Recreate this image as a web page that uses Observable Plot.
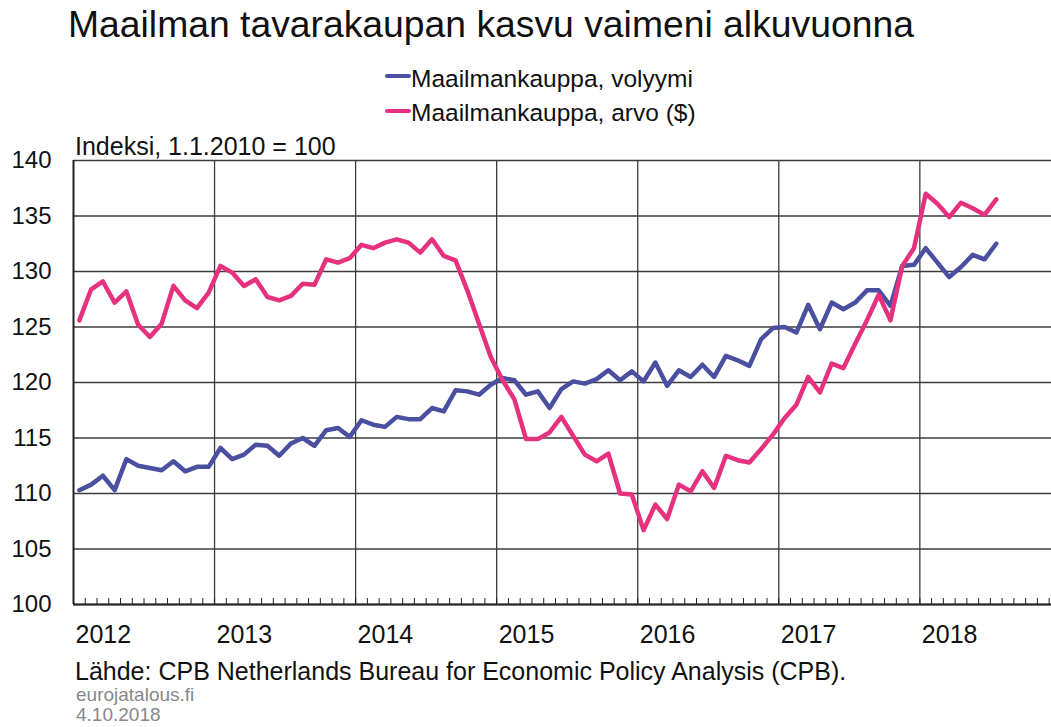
<!DOCTYPE html>
<html>
<head>
<meta charset="utf-8">
<script src="https://cdn.jsdelivr.net/npm/d3@7"></script>
<script src="https://cdn.jsdelivr.net/npm/@observablehq/plot@0.6"></script>
<style>
  html, body { margin: 0; padding: 0; background: #fff; }
  body { width: 1051px; height: 727px; position: relative; overflow: hidden;
         font-family: "Liberation Sans", Arial, Helvetica, sans-serif; color: #111; }
  .abs { position: absolute; line-height: 1; white-space: nowrap; }
  #chart { position: absolute; left: 0; top: 125px; }
  .sw { position: absolute; width: 26px; height: 4px; border-radius: 2px; }
</style>
</head>
<body>
<div class="abs" style="left:68px; top:6px; font-size:37.3px;">Maailman tavarakaupan kasvu vaimeni alkuvuonna</div>
<div class="sw" style="left:385px; top:74px; background:#4a4f9f;"></div>
<div class="abs" style="left:411px; top:67px; font-size:24.5px;">Maailmankauppa, volyymi</div>
<div class="sw" style="left:385px; top:109px; background:#e5317e;"></div>
<div class="abs" style="left:411px; top:101px; font-size:24.5px;">Maailmankauppa, arvo ($)</div>
<div id="chart"></div>
<div class="abs" style="left:75px; top:134px; font-size:25px; z-index:2;">Indeksi, 1.1.2010 = 100</div>
<div class="abs" style="left:75px; top:659px; font-size:25px;">Lähde: CPB Netherlands Bureau for Economic Policy Analysis (CPB).</div>
<div class="abs" style="left:76px; top:685px; font-size:19px; color:#888;">eurojatalous.fi</div>
<div class="abs" style="left:76px; top:705px; font-size:19px; color:#888;">4.10.2018</div>
<script>
// Monthly index values, Jan 2012 – Jul 2018 (1.1.2010 = 100)
const startYear = 2012;
const volyymi = [
  110.3, 110.8, 111.6, 110.3, 113.1, 112.5, 112.3, 112.1, 112.9, 112.0, 112.4, 112.4,
  114.1, 113.1, 113.5, 114.4, 114.3, 113.4, 114.5, 115.0, 114.3, 115.7, 115.9, 115.1,
  116.6, 116.2, 116.0, 116.9, 116.7, 116.7, 117.7, 117.4, 119.3, 119.2, 118.9, 119.8,
  120.4, 120.2, 118.9, 119.2, 117.7, 119.4, 120.1, 119.9, 120.3, 121.1, 120.2, 121.0,
  120.1, 121.8, 119.7, 121.1, 120.5, 121.6, 120.5, 122.4, 122.0, 121.5, 123.9, 124.9,
  125.0, 124.5, 127.0, 124.8, 127.2, 126.6, 127.2, 128.3, 128.3, 126.9, 130.5, 130.6,
  132.1, 130.8, 129.5, 130.4, 131.5, 131.1, 132.5
];
const arvo = [
  125.6, 128.4, 129.1, 127.2, 128.2, 125.2, 124.1, 125.3, 128.7, 127.4, 126.7, 128.1,
  130.5, 129.9, 128.7, 129.3, 127.7, 127.4, 127.8, 128.9, 128.8, 131.1, 130.8, 131.2,
  132.4, 132.1, 132.6, 132.9, 132.6, 131.7, 132.9, 131.4, 131.0, 128.3, 125.3, 122.3,
  120.2, 118.5, 114.9, 114.9, 115.5, 116.9, 115.2, 113.5, 112.9, 113.6, 110.0, 109.9,
  106.7, 109.0, 107.7, 110.8, 110.2, 112.0, 110.5, 113.4, 113.0, 112.8, 114.0, 115.3,
  116.8, 118.0, 120.5, 119.1, 121.7, 121.3, 123.5, 125.6, 127.9, 125.6, 130.5, 132.1,
  137.0, 136.1, 134.9, 136.2, 135.7, 135.1, 136.5
];
const yearLabels = ["2012", "2013", "2014", "2015", "2016", "2017", "2018"];
const yTicks = [100, 105, 110, 115, 120, 125, 130, 135, 140];

// month index positions (month n plotted at its middle)
const toRows = (arr) => arr.map((v, i) => ({m: i + 0.5, v}));
const yearStarts = yearLabels.map((y) => (+y - startYear) * 12);
const monthTicks = d3.range(0, 84);

const chart = Plot.plot({
  width: 1051,
  height: 530,
  marginTop: 35,
  marginBottom: 51,
  marginLeft: 73,
  marginRight: 0,
  style: {fontFamily: '"Liberation Sans", Arial, Helvetica, sans-serif', fontSize: "24px", color: "#111", background: "transparent", overflow: "visible"},
  x: {domain: [0, 83.2], axis: null},
  y: {domain: [100, 140], axis: null},
  marks: [
    Plot.gridY(yTicks, {stroke: "#3c3c3c", strokeOpacity: 1, strokeWidth: 1.3}),
    Plot.gridX(yearStarts.slice(1), {stroke: "#3c3c3c", strokeOpacity: 1, strokeWidth: 1.3}),
    Plot.axisX(monthTicks, {tickSize: 6, dy: -6, tickFormat: () => "", label: null, stroke: "#222", strokeWidth: 1}),
    Plot.ruleX([0], {stroke: "#222", strokeWidth: 2}),
    Plot.ruleY([100], {stroke: "#222", strokeWidth: 2}),
    Plot.axisX(yearStarts, {tickSize: 0, tickPadding: 21, textAnchor: "start", dx: 2, fontSize: 25, label: null,
      tickFormat: (d) => yearLabels[yearStarts.indexOf(d)]}),
    Plot.axisY(yTicks, {tickSize: 0, tickPadding: 22, fontSize: 24, label: null}),
    Plot.line(toRows(volyymi), {x: "m", y: "v", stroke: "#4a4f9f", strokeWidth: 4.5, strokeLinejoin: "round", strokeLinecap: "round"}),
    Plot.line(toRows(arvo), {x: "m", y: "v", stroke: "#e5317e", strokeWidth: 4.5, strokeLinejoin: "round", strokeLinecap: "round"})
  ]
});
document.getElementById("chart").appendChild(chart);
</script>
</body>
</html>
